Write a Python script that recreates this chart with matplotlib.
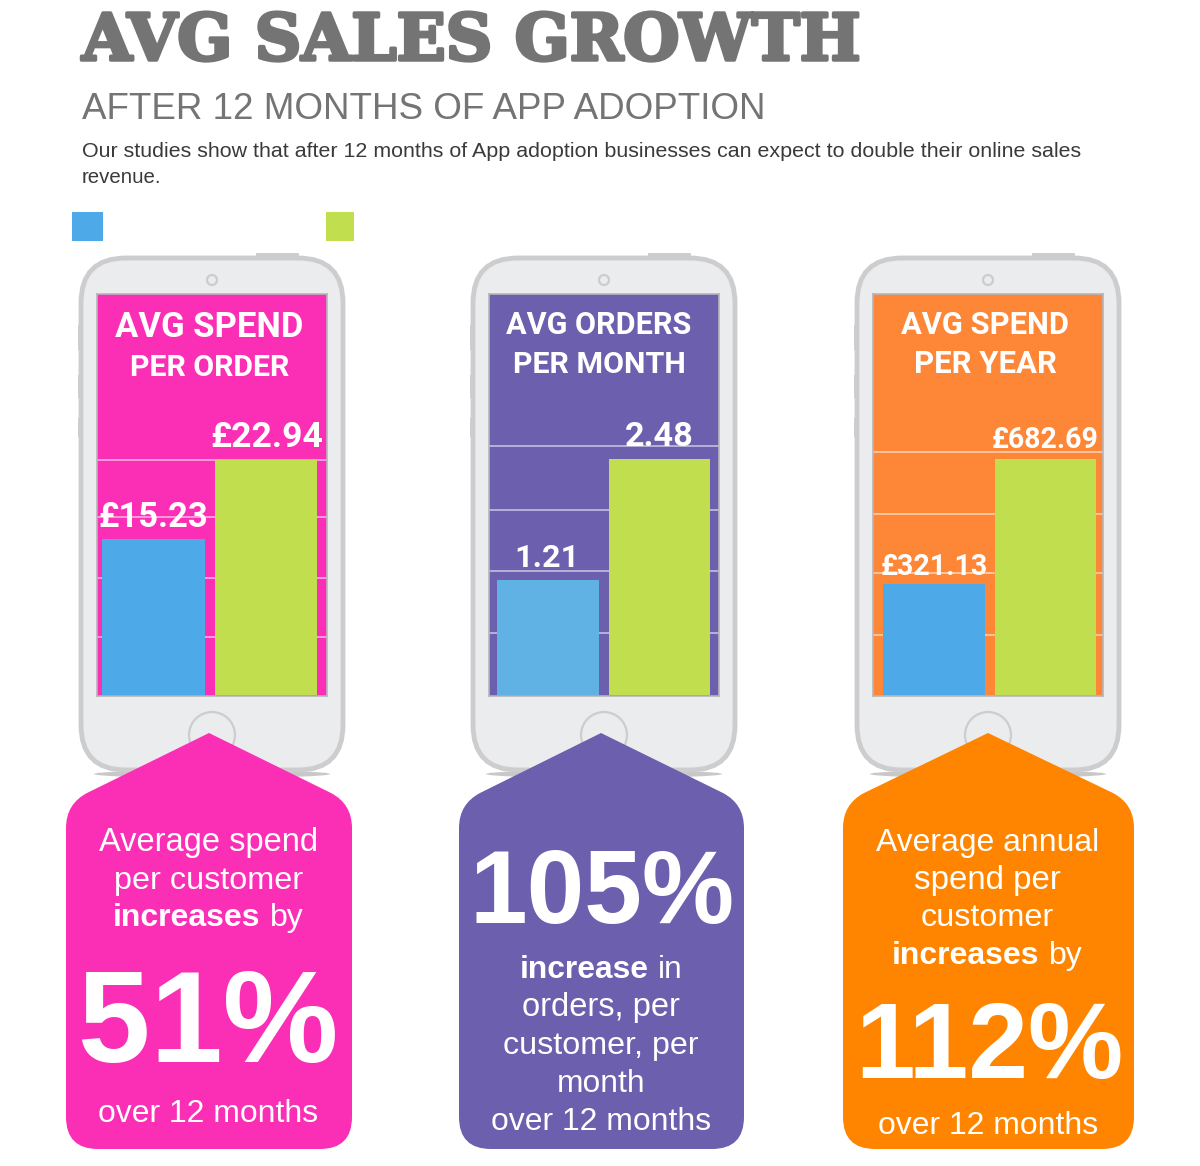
import matplotlib
matplotlib.use("Agg")
import matplotlib.pyplot as plt
import matplotlib.patheffects as pe
from matplotlib.patches import FancyBboxPatch, Circle, Rectangle, PathPatch, Ellipse
from matplotlib.path import Path

W, H = 1200, 1166

# ---- data ----
phone_titles = [("AVG SPEND", "PER ORDER"), ("AVG ORDERS", "PER MONTH"), ("AVG SPEND", "PER YEAR")]
before_values = [15.23, 1.21, 321.13]
after_values = [22.94, 2.48, 682.69]
value_formats = ["£{:.2f}", "{:.2f}", "£{:.2f}"]
grid_values = [[5.7, 11.4, 17.4, 23.0], [0.65, 1.31, 1.95, 2.62], [174, 353, 524, 703]]
y_limits = [39.3, 4.23, 1163]
title_text = "AVG SALES GROWTH"
subtitle_text = "AFTER 12 MONTHS OF APP ADOPTION"
body_lines = ["Our studies show that after 12 months of App adoption businesses can expect to double their online sales", "revenue."]

PINK, PURPLE, ORANGE_S, ORANGE = "#fb2fb5", "#6c5fae", "#fd8736", "#ff8500"
BLUE, BLUE2, GREEN = "#4da9e8", "#5fb2e3", "#c0de4e"
GRAY_T = "#747474"
screen_colors = [PINK, PURPLE, ORANGE_S]
blue_colors = [BLUE, BLUE2, BLUE]
house_colors = [PINK, PURPLE, ORANGE]

fig = plt.figure(figsize=(W / 100, H / 100), dpi=100, facecolor="white")

def px_axes(z):
    a = fig.add_axes([0, 0, 1, 1], zorder=z)
    a.set_xlim(0, W)
    a.set_ylim(H, 0)
    a.axis("off")
    a.patch.set_alpha(0)
    return a

bg = px_axes(0)
fg = px_axes(5)
rend = fig.canvas.get_renderer()

def fit(segs, x0, x1, base, color="white", stroke=None):
    """segs: list of (text, family, weight). Fitted between x0 and x1 on baseline."""
    ts = [fg.text(0, base, s, family=f, weight=w, color=color, fontsize=20, va="baseline", ha="left") for s, f, w in segs]
    size = 20.0
    for _ in range(3):
        ws = [t.get_window_extent(rend).width for t in ts]
        gap = 0.28 * size * 100 / 72
        k = (x1 - x0) / (sum(ws) + gap * (len(ts) - 1))
        size *= k
        for t in ts:
            t.set_fontsize(size)
    ws = [t.get_window_extent(rend).width for t in ts]
    gap = 0.28 * size * 100 / 72
    x = x0
    for t, w in zip(ts, ws):
        t.set_x(x)
        x += w + gap
        if stroke:
            t.set_path_effects([pe.withStroke(linewidth=stroke, foreground=color)])
    return ts

SANS = "Liberation Sans"
HEAD = "Roboto"

# header
fit([(title_text, "DejaVu Serif", "bold")], 82, 861, 60, GRAY_T, stroke=2.5)
fit([(subtitle_text, SANS, "normal")], 82, 766, 119, GRAY_T)
fit([(body_lines[0], SANS, "normal")], 82, 1082, 157, "#3a3a3a")
fit([(body_lines[1], SANS, "normal")], 82, 161, 183, "#3a3a3a")

# legend swatches
bg.add_patch(Rectangle((72, 212), 31, 29, fc=BLUE, ec="none"))
bg.add_patch(Rectangle((326, 212), 28, 29, fc=GREEN, ec="none"))

# phones
phone_left = [81, 473, 857]
screen_left = [97, 489, 873]
bar_centres = [(153.5, 266), (548, 659.5), (934, 1045.5)]
BORDER, BODY = "#cdcdcf", "#ebecee"
for i, x in enumerate(phone_left):
    bg.add_patch(Ellipse((x + 131, 774), 236, 8, fc="#c8c8c8", ec="none"))
    bg.add_patch(Rectangle((x + 175, 253), 43, 6, fc=BORDER, ec="none"))
    for yy, hh in [(325, 25), (375, 23), (418, 19)]:
        bg.add_patch(Rectangle((x - 3, yy), 4, hh, fc=BORDER, ec="none"))
    bg.add_patch(FancyBboxPatch((x + 45, 258 + 45), 262 - 90, 512 - 90,
                                boxstyle="round,pad=45,rounding_size=45",
                                fc=BODY, ec=BORDER, lw=3.5))
    bg.add_patch(Circle((x + 131, 280), 5, fc=BODY, ec=BORDER, lw=1.6))
    bg.add_patch(Circle((x + 131, 735), 23, fc=BODY, ec=BORDER, lw=1.6))

    sx = screen_left[i]
    ax = fig.add_axes([sx / W, 1 - 696 / H, 230 / W, 402 / H], zorder=2)
    ax.set_facecolor(screen_colors[i])
    c0, c1 = bar_centres[i]
    step = c1 - c0
    ax.bar([0, 1], [before_values[i], after_values[i]], width=0.91, color=[blue_colors[i], GREEN], zorder=3)
    ax.set_xlim((sx - c0) / step, 1 + (sx + 230 - c1) / step)
    pad = y_limits[i] / 402
    ax.set_ylim(-pad, y_limits[i] - pad)
    ax.set_yticks(grid_values[i])
    ax.set_xticks([])
    ax.tick_params(left=False, labelleft=False)
    ax.grid(axis="y", color="white", alpha=0.65, lw=1.1, zorder=1)
    ax.set_axisbelow(True)
    for s in ax.spines.values():
        s.set_color("#b5b5bb")
        s.set_linewidth(1.2)

# phone headings
heads = [
    [(115, 303, 337), (130, 289, 376)],
    [(506, 692, 334), (513, 686, 373)],
    [(901, 1069, 334), (914, 1057, 373)],
]
for i, rows in enumerate(heads):
    for txt, (a, b, base) in zip(phone_titles[i], rows):
        fit([(txt, HEAD, "bold")], a, b, base)

# value labels
val_pos = [
    [(98, 208, 527), (210, 323, 447)],
    [(514, 579, 567), (625, 694, 446)],
    [(881, 988, 575), (992, 1099, 448)],
]
for i, (p0, p1) in enumerate(val_pos):
    fit([(value_formats[i].format(before_values[i]), HEAD, "bold")], p0[0], p0[1], p0[2])
    fit([(value_formats[i].format(after_values[i]), HEAD, "bold")], p1[0], p1[1], p1[2])

# houses
def house(ax, l, r, apex, color):
    yt, yb, c = 733, 1149, 32
    M, L, Q = Path.MOVETO, Path.LINETO, Path.CURVE3
    v = [(apex, yt), (r - 21, 793), (r, 804), (r, 828), (r, yb - c), (r, yb), (r - c, yb),
         (l + c, yb), (l, yb), (l, yb - c), (l, 828), (l, 804), (l + 21, 793), (apex, yt)]
    k = [M, L, Q, Q, L, Q, Q, L, Q, Q, L, Q, Q, L]
    ax.add_patch(PathPatch(Path(v, k), fc=color, ec="none"))

house(bg, 66, 352, 209, house_colors[0])
house(bg, 459, 744, 601, house_colors[1])
house(bg, 843, 1134, 988, house_colors[2])

def plain(t, a, b, base):
    fit([(t, SANS, "normal")], a, b, base)
def incr(word, a, b, base, rest):
    fit([(word, SANS, "bold"), (rest, SANS, "normal")], a, b, base)
def big(t, a, b, base):
    fit([(t, SANS, "bold")], a, b, base)

plain("Average spend", 99, 318, 851)
plain("per customer", 114, 303, 889)
incr("increases", 113, 304, 926, "by")
big("51%", 78, 338, 1062)
plain("over 12 months", 98, 318, 1122)

big("105%", 470, 735, 923)
incr("increase", 520, 683, 978, "in")
plain("orders, per", 522, 680, 1016)
plain("customer, per", 503, 699, 1054)
plain("month", 557, 645, 1092)
plain("over 12 months", 491, 711, 1130)

plain("Average annual", 876, 1099, 851)
plain("spend per", 914, 1061, 889)
plain("customer", 921, 1054, 926)
incr("increases", 892, 1083, 964, "by")
big("112%", 855, 1123, 1078)
plain("over 12 months", 878, 1097, 1134)

fig.savefig("out.png", dpi=100, facecolor="white")
